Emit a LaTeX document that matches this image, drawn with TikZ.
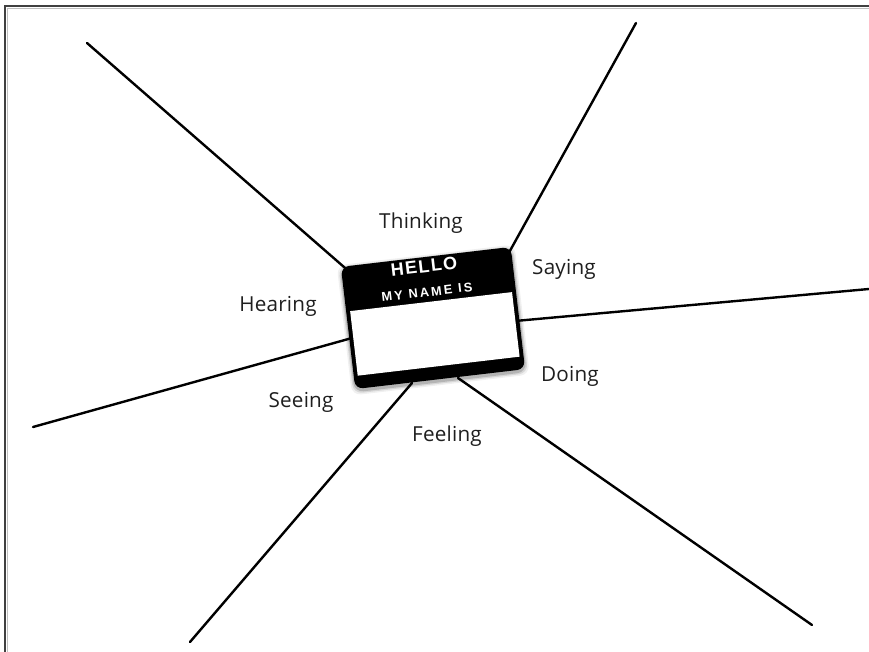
\documentclass[tikz,border=0pt]{standalone}
\usepackage{fontspec}
\setmainfont{Liberation Sans}
\newfontfamily\labelfont[LetterSpace=1]{Open Sans}
\newfontfamily\hellofont[LetterSpace=8]{Liberation Sans Bold}
\newfontfamily\namefont[LetterSpace=17]{Liberation Sans Bold}
\begin{document}
\begin{tikzpicture}[x=0.75pt,y=-0.75pt,
  spoke/.style={line width=1.8pt, black, line cap=round},
  lbl/.style={font=\labelfont\fontsize{15.5pt}{17pt}\selectfont, text=black!88, anchor=base, inner sep=0pt},
  tagbody/.style={fill=black, rounded corners=6pt, minimum width=128.25pt, minimum height=92.25pt, inner sep=0pt, transform shape},
  tagtext/.style={text=white, inner sep=0pt, anchor=base, transform shape}
]
\useasboundingbox (0,0) rectangle (869,652);
\fill[white] (0,0) rectangle (869,652);
% frame
\draw[black!25, line width=1.2pt] (7.5,652) -- (7.5,8.5) -- (869,8.5);
\draw[black!75, line width=1.3pt] (5,652) -- (5,6) -- (869,6);

% tag centre and spoke end points
\coordinate (c) at (433,318);
\coordinate (e1) at (87,43);   \coordinate (i1) at (352,274);
\coordinate (e2) at (636,23);  \coordinate (i2) at (506,258);
\coordinate (e3) at (869,289); \coordinate (i3) at (515,321);
\coordinate (e4) at (33,427);  \coordinate (i4) at (352,338);
\coordinate (e5) at (190,642); \coordinate (i5) at (412,383);
\coordinate (e6) at (812,625); \coordinate (i6) at (458,378);

\foreach \k in {1,...,6} \draw[spoke] (e\k) -- (i\k);

% name tag
\begin{scope}[shift={(c)}, rotate=6.7]
  \foreach \s/\o in {4/0.06,2.5/0.10,1.2/0.16}
    \fill[black, opacity=\o, rounded corners=7pt] (-85.5-\s,-61.5-\s+2) rectangle (85.5+\s,61.5+\s+2);
  \node[tagbody] (tag) at (0,0) {};
  \fill[white] (-81.5,-16.5) rectangle (81.5,48.5);
  \node[tagtext, font=\hellofont\fontsize{13.5pt}{16pt}\selectfont] (hello) at (-3,-46) {HELLO};
  \node[tagtext, font=\namefont\fontsize{9.6pt}{12pt}\selectfont] (myname) at (-3,-22) {MY NAME IS};
\end{scope}

% labels
\node[lbl] (thinking) at (421,229) {Thinking};
\node[lbl] (saying)   at (564,275) {Saying};
\node[lbl] (hearing)  at (278,311.5) {Hearing};
\node[lbl] (doing)    at (570,381.5) {Doing};
\node[lbl] (seeing)   at (301,408) {Seeing};
\node[lbl] (feeling)  at (447,441.5) {Feeling};
\end{tikzpicture}
\end{document}
